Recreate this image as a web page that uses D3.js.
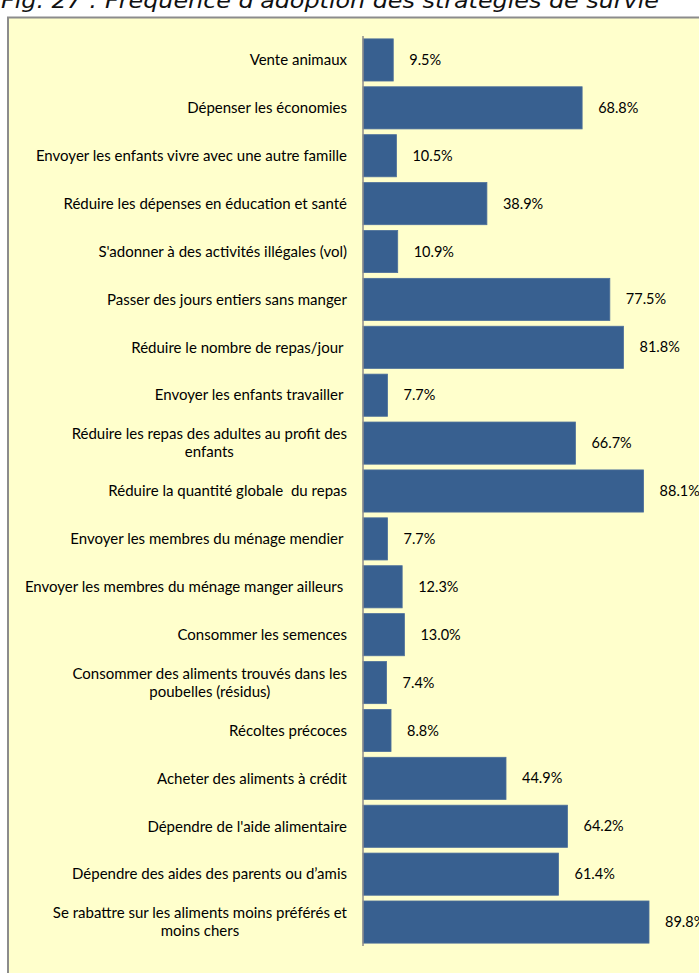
<!DOCTYPE html>
<html><head><meta charset="utf-8">
<script src="https://cdn.jsdelivr.net/npm/d3@7/dist/d3.min.js"></script>
<style>html,body{margin:0;padding:0;background:#fff;overflow:hidden} text.lab{white-space:pre}</style>
</head><body><svg id="c" width="699" height="973"></svg>
<script>
const title = "Fig. 27 : Fréquence d'adoption des stratégies de survie";
const categories = [
  "Vente animaux",
  "Dépenser les économies",
  "Envoyer les enfants vivre avec une autre famille",
  "Réduire les dépenses en éducation et santé",
  "S'adonner à des activités illégales (vol)",
  "Passer des jours entiers sans manger",
  "Réduire le nombre de repas/jour ",
  "Envoyer les enfants travailler ",
  "Réduire les repas des adultes au profit des\nenfants",
  "Réduire la quantité globale  du repas",
  "Envoyer les membres du ménage mendier ",
  "Envoyer les membres du ménage manger ailleurs ",
  "Consommer les semences",
  "Consommer des aliments trouvés dans les\npoubelles (résidus)",
  "Récoltes précoces",
  "Acheter des aliments à crédit",
  "Dépendre de l'aide alimentaire",
  "Dépendre des aides des parents ou d’amis",
  "Se rabattre sur les aliments moins préférés et\nmoins chers"
];
const values = [9.5, 68.8, 10.5, 38.9, 10.9, 77.5, 81.8, 7.7, 66.7, 88.1, 7.7, 12.3, 13.0, 7.4, 8.8, 44.9, 64.2, 61.4, 89.8];

const svg = d3.select("#c");
// frame
svg.append("rect").attr("x", 8).attr("y", 17.5).attr("width", 720).attr("height", 1000)
  .attr("fill", "#ffffcc").attr("stroke", "#8c8c8c").attr("stroke-width", 2);
// title
svg.append("text").attr("x", 1).attr("y", 8)
  .attr("font-family", "DejaVu Sans").attr("font-style", "italic").attr("font-size", 22)
  .attr("textLength", 658).attr("lengthAdjust", "spacingAndGlyphs")
  .attr("fill", "#111").text(title);

const x = d3.scaleLinear().domain([0, 100]).range([363, 363 + 318.5]);
const y = d3.scaleBand().domain(categories).range([36, 946]).paddingInner(0.12).paddingOuter(0.06);

const g = svg.append("g");
g.selectAll("rect.bar").data(values).join("rect").attr("class", "bar")
  .attr("x", x(0)).attr("y", (d, i) => y(categories[i]))
  .attr("width", d => x(d) - x(0)).attr("height", y.bandwidth())
  .attr("fill", "#386090").attr("stroke", "#4d6f9a").attr("stroke-width", 0.8);

// axis line
svg.append("line").attr("x1", x(0)).attr("x2", x(0)).attr("y1", 36).attr("y2", 946)
  .attr("stroke", "#8c8c8c").attr("stroke-width", 1.5);

const font = "Lato";
const fs = 15;
// category labels
categories.forEach((c, i) => {
  const lines = c.split("\n");
  const cy = y(c) + y.bandwidth() / 2;
  const t = svg.append("text").attr("class", "lab").attr("font-family", font).attr("font-size", fs)
    .attr("font-weight", 400).attr("fill", "#000");
  const tmp = lines.map(l => t.append("tspan").text(l));
  const widths = tmp.map(s => s.node().getComputedTextLength());
  const w = d3.max(widths);
  const right = 347;
  const cx = right - w / 2;
  const lh = 18;
  tmp.forEach((s, k) => {
    s.attr("x", lines.length > 1 ? cx : right)
     .attr("text-anchor", lines.length > 1 ? "middle" : "end")
     .attr("y", cy + (k - (lines.length - 1) / 2) * lh)
     .attr("dy", "0.35em");
  });
  if (lines.length === 1) t.attr("text-anchor", "end");
});

// value labels
g.selectAll("text.val").data(values).join("text").attr("class", "val")
  .attr("x", d => x(d) + 16).attr("y", (d, i) => y(categories[i]) + y.bandwidth() / 2)
  .attr("dy", "0.35em").attr("font-family", font).attr("font-size", 14.5).attr("fill", "#000")
  .text(d => d.toFixed(1) + "%");
</script></body></html>
